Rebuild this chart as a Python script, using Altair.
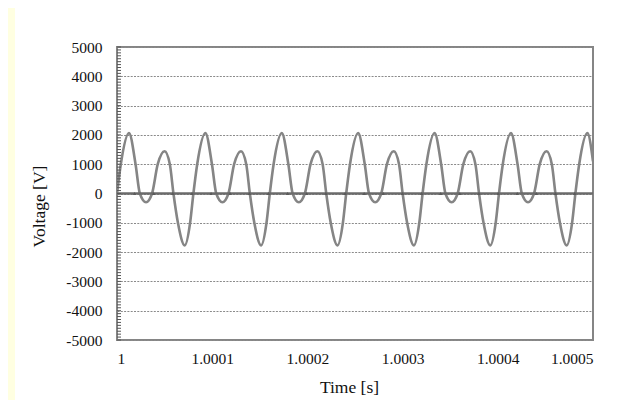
import altair as alt
import pandas as pd

# time in microseconds after t = 1 s, voltage in V
time_us = [
    0.0, 4.0, 12.6, 19.5, 24.0, 30.5, 36.8, 42.8, 50.0, 55.5, 59.3, 64.0, 71.2, 76.8,
    80.25, 84.25, 92.85, 99.75, 104.25, 110.75, 117.05, 123.05, 130.25, 135.75, 139.55, 144.25, 151.45, 157.05,
    160.5, 164.5, 173.1, 180.0, 184.5, 191.0, 197.3, 203.3, 210.5, 216.0, 219.8, 224.5, 231.7, 237.3,
    240.75, 244.75, 253.35, 260.25, 264.75, 271.25, 277.55, 283.55, 290.75, 296.25, 300.05, 304.75, 311.95, 317.55,
    321.0, 325.0, 333.6, 340.5, 345.0, 351.5, 357.8, 363.8, 371.0, 376.5, 380.3, 385.0, 392.2, 397.8,
    401.25, 405.25, 413.85, 420.75, 425.25, 431.75, 438.05, 444.05, 451.25, 456.75, 460.55, 465.25, 472.45, 478.05,
    481.5, 485.5, 494.1, 500.0,
]
voltage = [
    0, 1000, 2060, 1000, 0, -300, 0, 1000, 1440, 1000, 0, -1000, -1770, -1000,
    0, 1000, 2060, 1000, 0, -300, 0, 1000, 1440, 1000, 0, -1000, -1770, -1000,
    0, 1000, 2060, 1000, 0, -300, 0, 1000, 1440, 1000, 0, -1000, -1770, -1000,
    0, 1000, 2060, 1000, 0, -300, 0, 1000, 1440, 1000, 0, -1000, -1770, -1000,
    0, 1000, 2060, 1000, 0, -300, 0, 1000, 1440, 1000, 0, -1000, -1770, -1000,
    0, 1000, 2060, 1000, 0, -300, 0, 1000, 1440, 1000, 0, -1000, -1770, -1000,
    0, 1000, 2060, 1100,
]

# second (near-zero) series
zero_us = [0.0, 500.0]
zero_v = [0, 0]
marker_us = [18.5, 38.6, 58.6, 78.7, 98.8, 118.9, 139.0, 159.1, 179.2, 199.3,
             219.4, 239.5, 259.6, 279.7, 299.8, 319.9, 340.0, 360.1, 380.2,
             400.3, 420.4, 440.5, 460.6, 480.7]
marker_v = [0] * len(marker_us)

x_ticks = [1.0, 1.0001, 1.0002, 1.0003, 1.0004, 1.0005]
y_ticks = [-5000, -4000, -3000, -2000, -1000, 0, 1000, 2000, 3000, 4000, 5000]
minor_y = list(range(-5000, 5001, 100))

df = pd.DataFrame({"t": [1 + u * 1e-6 for u in time_us], "v": voltage})
zdf = pd.DataFrame({"t": [1 + u * 1e-6 for u in zero_us], "v": zero_v})
mdf = pd.DataFrame({"t": [1 + u * 1e-6 for u in marker_us], "v": marker_v})
tdf = pd.DataFrame({"v": minor_y})

W, H = 476, 293
FONT = "Liberation Serif"
TXT = "#111111"
xscale = alt.Scale(domain=[1.0, 1.0005], nice=False, zero=False)
yscale = alt.Scale(domain=[-5000, 5000], nice=False)

x_axis = alt.Axis(values=x_ticks, format=".4~f", title="Time [s]", ticks=False, tickSize=0,
                  domain=False, grid=False, labelPadding=11, labelFontSize=15.5,
                  labelFont=FONT, labelColor=TXT, titleFont=FONT, titleFontSize=17.5,
                  titleFontWeight="normal", titleColor=TXT, titleX=232, titleY=52,
                  titleBaseline="alphabetic", labelOverlap=False)

y_axis = alt.Axis(values=y_ticks, labelExpr="'' + datum.value", title="Voltage [V]",
                  ticks=False, tickSize=0, domain=False, grid=True, gridDash=[2, 1.3],
                  gridColor="#8a8a8a", gridWidth=1.2, labelPadding=15, labelFontSize=15.5,
                  labelFont=FONT, labelColor=TXT, titleFont=FONT, titleFontSize=17.5,
                  titleFontWeight="normal", titleColor=TXT, titleX=-73, titleY=159,
                  titleBaseline="alphabetic", labelOverlap=False)

strip = alt.Chart(pd.DataFrame({"a": [0]})).mark_rect(color="#ffffe1").encode(
    x=alt.value(-109), x2=alt.value(-102), y=alt.value(-39), y2=alt.value(353)
)

curve = alt.Chart(df).mark_line(color="#858585", strokeWidth=2.6, interpolate="monotone",
                                clip=True).encode(
    x=alt.X("t:Q", scale=xscale, axis=x_axis),
    y=alt.Y("v:Q", scale=yscale, axis=y_axis),
)

zero = alt.Chart(zdf).mark_line(color="#6b6b6b", strokeWidth=2.4).encode(
    x=alt.X("t:Q", scale=xscale, axis=x_axis),
    y=alt.Y("v:Q", scale=yscale, axis=y_axis),
)

markers = alt.Chart(mdf).mark_point(shape="triangle-up", filled=True, size=12,
                                    color="#5a5a5a", opacity=1).encode(
    x=alt.X("t:Q", scale=xscale, axis=x_axis),
    y=alt.Y("v:Q", scale=yscale, axis=y_axis),
)

minor_ticks = alt.Chart(tdf).mark_tick(orient="horizontal", size=4, thickness=1,
                                       color="#555555", opacity=1).encode(
    x=alt.value(2),
    y=alt.Y("v:Q", scale=yscale, axis=y_axis),
)

chart = alt.layer(strip, curve, zero, markers, minor_ticks).properties(
    width=W, height=H,
    autosize=alt.AutoSizeParams(type="none"),
    padding={"left": 109, "top": 39, "right": 34, "bottom": 60},
    background="white",
).configure_view(stroke="#858585", strokeWidth=2)

chart.save("out.html", embed_options={"renderer": "svg", "actions": False})
